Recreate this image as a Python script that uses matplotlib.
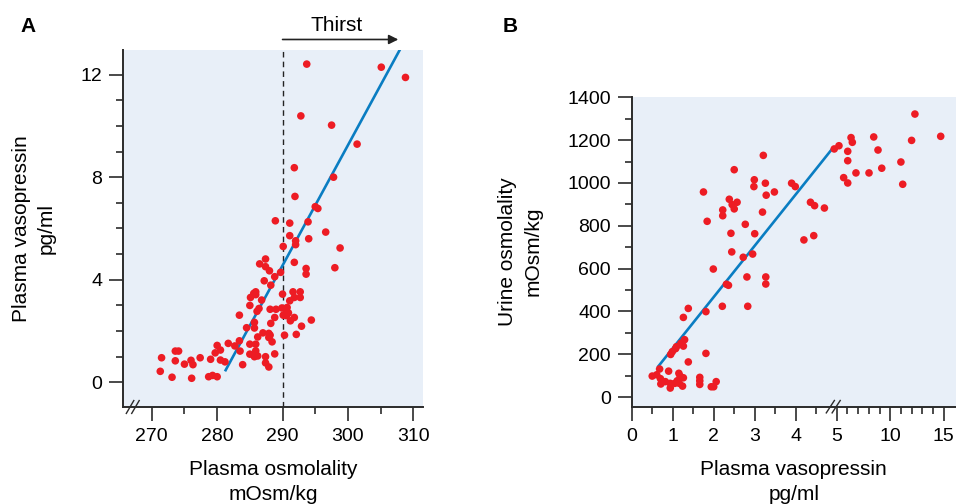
import matplotlib
matplotlib.use("Agg")
import matplotlib.pyplot as plt
import numpy as np

plt.rcParams['font.family'] = ['Liberation Sans', 'DejaVu Sans']
plt.rcParams['font.size'] = 14

# --- Panel A: plasma osmolality (mOsm/kg) vs plasma vasopressin (pg/ml) ---
osm_a = [293.7, 305.1, 308.8, 292.8, 297.5, 301.4, 291.8, 297.8, 291.9, 295.0,
         295.4, 288.9, 291.1, 293.9, 296.6, 291.1, 294.0, 292.0, 292.0, 298.8,
         290.1, 291.8, 293.6, 293.6, 298.0, 286.5, 287.4, 287.4, 288.0, 289.7,
         288.8, 287.2, 288.2, 285.9, 285.1, 285.9, 286.8, 285.0, 286.1, 288.1,
         289.0, 290.0, 291.6, 292.7, 291.8, 292.7, 291.1, 290.7, 290.6, 290.1,
         290.6, 288.8, 288.2, 291.8, 291.2, 292.9, 294.4, 292.1, 290.3, 283.4,
         285.7, 284.5, 285.7, 287.0, 286.2, 287.9, 287.9, 288.4, 285.0, 285.9,
         285.9, 285.0, 285.7, 286.2, 287.4, 287.4, 287.9, 288.8, 283.4, 282.7,
         281.7, 283.5, 283.9, 280.0, 280.5, 279.7, 279.0, 280.5, 281.2, 277.4,
         276.0, 276.3, 275.0, 273.6, 274.1, 273.6, 271.5, 271.3, 273.1, 276.1,
         278.7, 279.3, 280.0, 289.9, 290.9, 288.1, 285.6, 286.4]
avp_a = [12.41, 12.29, 11.89, 10.39, 10.03, 9.29, 8.37, 8.00, 7.25, 6.85,
         6.78, 6.30, 6.21, 6.26, 5.86, 5.72, 5.60, 5.52, 5.37, 5.24,
         5.30, 4.68, 4.44, 4.22, 4.47, 4.62, 4.81, 4.51, 4.35, 4.29,
         4.12, 3.96, 3.79, 3.53, 3.31, 3.42, 3.21, 3.00, 2.77, 2.85,
         2.85, 3.44, 3.53, 3.53, 3.31, 3.31, 3.18, 2.92, 2.79, 2.62,
         2.60, 2.53, 2.30, 2.53, 2.40, 2.19, 2.43, 1.87, 1.84, 2.62,
         2.34, 2.13, 2.12, 1.93, 1.77, 1.91, 1.75, 1.58, 1.49, 1.49,
         1.23, 1.10, 1.00, 1.03, 1.00, 0.76, 0.60, 1.11, 1.62, 1.42,
         1.52, 1.22, 0.69, 1.44, 1.26, 1.15, 0.90, 0.87, 0.80, 0.96,
         0.86, 0.69, 0.71, 1.22, 1.22, 0.84, 0.96, 0.43, 0.20, 0.16,
         0.22, 0.27, 0.22, 2.90, 2.71, 1.84, 3.47, 2.88]
fit_a_x = [281.2, 308.0]
fit_a_y = [0.43, 13.0]
thirst_osm = 290

# --- Panel B: plasma vasopressin (pg/ml) vs urine osmolality (mOsm/kg) ---
avp_b = [1.75, 1.84, 2.50, 2.38, 2.22, 2.22, 2.45, 2.57, 2.50, 2.77,
         2.42, 3.00, 2.44, 2.95, 2.72, 3.21, 2.99, 2.98, 3.26, 3.28,
         3.48, 3.19, 3.90, 3.99, 4.36, 4.46, 4.70, 4.20, 4.44, 4.94,
         5.21, 6.34, 6.46, 6.03, 6.03, 5.65, 6.03, 6.80, 8.02, 8.46,
         8.86, 9.21, 11.0, 11.17, 12.0, 12.31, 14.72,
         1.99, 2.81, 3.27, 3.27, 2.31, 2.36, 2.21, 2.83, 1.81, 1.26,
         1.38, 1.29, 1.20, 1.26, 1.09, 1.07, 0.99, 0.95, 1.81, 1.38,
         0.68, 0.90, 0.50, 0.61, 0.70, 0.71, 0.82, 0.94, 0.94, 1.15,
         1.18, 1.26, 1.11, 1.16, 1.05, 1.24, 1.66, 1.66, 1.66, 1.94,
         2.00, 2.06]
uosm_b = [958, 821, 1062, 924, 874, 847, 899, 910, 879, 807,
          765, 763, 678, 668, 653, 1129, 1015, 983, 999, 943,
          958, 864, 999, 983, 910, 894, 883, 734, 754, 1159,
          1174, 1212, 1190, 1148, 1104, 1025, 1000, 1047, 1047, 1215,
          1154, 1069, 1098, 994, 1199, 1322, 1218,
          598, 561, 561, 528, 527, 522, 424, 424, 399, 372,
          414, 268, 251, 238, 235, 226, 212, 199, 204, 164,
          131, 121, 98, 104, 86, 61, 72, 42, 64, 111,
          98, 90, 76, 64, 64, 51, 92, 76, 59, 48,
          48, 72]
fit_b_x = [0.63, 4.90]
fit_b_y = [139, 1162]

red = '#ED1C24'
blue = '#0A7DC2'
bg = '#E8EFF8'
axcol = '#2b2b2b'

# broken x axis in panel B: 0-5 wide, 5-15 compressed
k = 10.7 / 41.0


def fwd(x):
    x = np.asarray(x, dtype=float)
    return np.where(x <= 5, x, 5 + (x - 5) * k)


def inv(x):
    x = np.asarray(x, dtype=float)
    return np.where(x <= 5, x, 5 + (x - 5) / k)


fig = plt.figure(figsize=(9.56, 5.04), dpi=100)
axA = fig.add_axes([0.129, 0.1925, 0.3132, 0.7083])
axB = fig.add_axes([0.6608, 0.1931, 0.3392, 0.615])

for ax in (axA, axB):
    ax.set_facecolor(bg)
    for s in ('top', 'right'):
        ax.spines[s].set_visible(False)
    for s in ('left', 'bottom'):
        ax.spines[s].set_color(axcol)
        ax.spines[s].set_linewidth(1.4)
    ax.tick_params(which='major', length=10, width=1.2, color=axcol, pad=5, labelsize=14)
    ax.tick_params(which='minor', length=5, width=1.2, color=axcol)

# Panel A
axA.scatter(osm_a, avp_a, s=30, color=red, edgecolors='none', zorder=3)
axA.plot(fit_a_x, fit_a_y, color=blue, lw=1.9, zorder=2, solid_capstyle='butt')
axA.axvline(thirst_osm, color='#222222', lw=1, ls=(0, (4, 3)), zorder=1)
axA.set_xlim(265.65, 311.44)
axA.set_ylim(-0.96, 12.96)
axA.set_xticks([270, 280, 290, 300, 310])
axA.set_xticks([275, 285, 295, 305], minor=True)
axA.set_yticks([0, 4, 8, 12])
axA.set_yticks(range(0, 13), minor=True)
axA.set_xlabel('Plasma osmolality\nmOsm/kg', fontsize=15, linespacing=1.4, labelpad=11)
axA.set_ylabel('Plasma vasopressin\npg/ml', fontsize=15, linespacing=1.4, labelpad=18)
axA.annotate('', xy=(307.7, 13.37), xytext=(290, 13.37),
             arrowprops=dict(arrowstyle='-|>', color='#222222', lw=1.2,
                             mutation_scale=14, shrinkA=0, shrinkB=0),
             annotation_clip=False)
axA.text(298.3, 13.93, 'Thirst', ha='center', va='center', fontsize=15)
# axis break marks
for dx in (0.0, 0.018):
    axA.plot([0.01 + dx, 0.035 + dx], [-0.018, 0.018], transform=axA.transAxes,
             color=axcol, lw=1, clip_on=False)

# Panel B
axB.set_xscale('function', functions=(fwd, inv))
axB.scatter(avp_b, uosm_b, s=30, color=red, edgecolors='none', zorder=3)
axB.plot(fit_b_x, fit_b_y, color=blue, lw=1.9, zorder=2, solid_capstyle='butt')
axB.set_xlim(0, 16.15)
axB.set_ylim(-45, 1403)
axB.set_xticks([0, 1, 2, 3, 4, 5, 10, 15])
axB.set_xticklabels(['0', '1', '2', '3', '4', '5', '10', '15'])
axB.set_xticks([0.5, 1.5, 2.5, 3.5, 4.5, 6, 7, 8, 9, 11, 12, 13, 14], minor=True)
axB.set_yticks(range(0, 1401, 200))
axB.set_yticks(range(100, 1400, 200), minor=True)
axB.set_xlabel('Plasma vasopressin\npg/ml', fontsize=15, linespacing=1.4, labelpad=11)
axB.set_ylabel('Urine osmolality\nmOsm/kg', fontsize=15, linespacing=1.4, labelpad=18)
for dx in (0.0, 0.018):
    axB.plot([0.6 + dx, 0.625 + dx], [-0.02, 0.02], transform=axB.transAxes,
             color=axcol, lw=1, clip_on=False)

fig.text(0.021, 0.948, 'A', fontsize=15, fontweight='bold', va='center')
fig.text(0.526, 0.948, 'B', fontsize=15, fontweight='bold', va='center')

fig.savefig('out.png', dpi=100)
